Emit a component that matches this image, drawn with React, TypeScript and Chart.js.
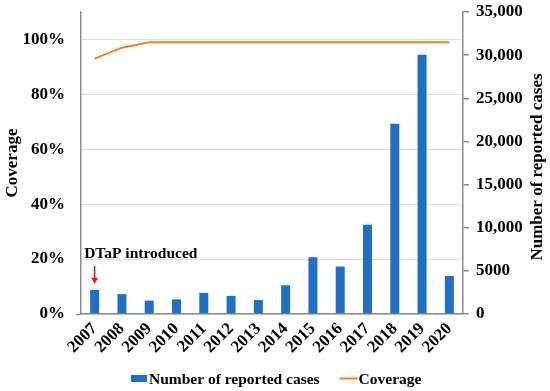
import React, { useEffect, useRef } from "react";
import { Chart, registerables } from "chart.js";

Chart.register(...registerables);

const years = ["2007", "2008", "2009", "2010", "2011", "2012", "2013", "2014", "2015", "2016", "2017", "2018", "2019", "2020"];
const reportedCases = [2800, 2300, 1550, 1700, 2450, 2100, 1620, 3330, 6580, 5500, 10350, 22050, 30050, 4400];
const coverage = [93, 97, 99, 99, 99, 99, 99, 99, 99, 99, 99, 99, 99, 99];
const annotationText = "DTaP introduced";
const leftTitle = "Coverage";
const rightTitle = "Number of reported cases";
const casesLabel = "Number of reported cases";
const coverageLabel = "Coverage";

const FONT = "'Liberation Serif', 'Times New Roman', serif";
const BLUE = "#1F6EC7";
const ORANGE = "#F57E22";
const AXIS = "#8c8c8c";

function fmtCases(v: number): string {
  if (v >= 10000) return v.toLocaleString("en-US");
  return String(v);
}

const extrasPlugin = {
  id: "extras",
  afterDraw(chart: any) {
    const { ctx } = chart;
    const x = chart.scales.x;
    const y1 = chart.scales.y1;
    const area = chart.chartArea;

    // right axis title, bottom-to-top
    ctx.save();
    const midY = (area.top + area.bottom) / 2 + 4;
    ctx.translate(y1.right - 12, midY);
    ctx.rotate(-Math.PI / 2);
    ctx.font = `bold 17px ${FONT}`;
    ctx.fillStyle = "#000";
    ctx.textAlign = "center";
    ctx.textBaseline = "middle";
    ctx.fillText(rightTitle, 0, 0);
    ctx.restore();

    // annotation
    const cx = x.getPixelForValue(0);
    const barTop = y1.getPixelForValue(reportedCases[0]);
    ctx.save();
    ctx.font = `bold 15.5px ${FONT}`;
    ctx.fillStyle = "#000";
    ctx.textAlign = "left";
    ctx.textBaseline = "alphabetic";
    ctx.fillText(annotationText, cx - 10.5, barTop - 32);
    ctx.strokeStyle = "#E8141B";
    ctx.fillStyle = "#E8141B";
    ctx.lineWidth = 1.5;
    ctx.beginPath();
    ctx.moveTo(cx, barTop - 24);
    ctx.lineTo(cx, barTop - 10);
    ctx.stroke();
    ctx.beginPath();
    ctx.moveTo(cx - 3.5, barTop - 12);
    ctx.lineTo(cx + 3.5, barTop - 12);
    ctx.lineTo(cx, barTop - 6);
    ctx.closePath();
    ctx.fill();
    ctx.restore();

    // legend
    const ly = 378.5;
    ctx.save();
    ctx.font = `bold 15.5px ${FONT}`;
    ctx.textBaseline = "middle";
    ctx.textAlign = "left";
    let lx = 131;
    ctx.fillStyle = BLUE;
    ctx.fillRect(lx, ly - 3.5, 16, 7);
    lx += 18;
    ctx.fillStyle = "#000";
    ctx.fillText(casesLabel, lx, ly + 1);
    lx += ctx.measureText(casesLabel).width + 20;
    ctx.strokeStyle = ORANGE;
    ctx.lineWidth = 2;
    ctx.beginPath();
    ctx.moveTo(lx, ly);
    ctx.lineTo(lx + 18, ly);
    ctx.stroke();
    lx += 19;
    ctx.fillText(coverageLabel, lx, ly + 1);
    ctx.restore();
  },
};

export default function App() {
  const ref = useRef<HTMLCanvasElement | null>(null);
  useEffect(() => {
    if (!ref.current) return;
    const chart = new Chart(ref.current, {
      type: "bar",
      data: {
        labels: years,
        datasets: [
          {
            type: "bar",
            label: casesLabel,
            data: reportedCases,
            backgroundColor: BLUE,
            borderWidth: 0,
            yAxisID: "y1",
            barPercentage: 0.33,
            categoryPercentage: 1.0,
          } as any,
          {
            type: "line",
            label: coverageLabel,
            data: coverage,
            borderColor: ORANGE,
            backgroundColor: ORANGE,
            borderWidth: 2,
            pointRadius: 0,
            tension: 0,
            yAxisID: "y",
          } as any,
        ],
      },
      options: {
        animation: false,
        responsive: false,
        maintainAspectRatio: false,
        layout: { autoPadding: false, padding: { left: 0, right: 0, top: 0, bottom: 0 } },
        plugins: {
          tooltip: { enabled: false },
          legend: { display: false },
        },
        scales: {
          x: {
            offset: true,
            afterFit: (s: any) => {
              s.height = 77;
            },
            grid: { display: false, drawTicks: false },
            border: { color: AXIS, width: 1.5 },
            ticks: {
              color: "#000",
              autoSkip: false,
              maxRotation: 45,
              minRotation: 45,
              padding: 5,
              font: { family: FONT, size: 17, weight: "bold" },
            },
          },
          y: {
            position: "left",
            min: 0,
            max: 110,
            afterFit: (s: any) => {
              s.width = 81;
              s.paddingTop = 12;
              s.paddingBottom = 0;
            },
            afterBuildTicks: (axis: any) => {
              axis.ticks = axis.ticks.filter((t: any) => t.value <= 100.001);
            },
            ticks: {
              stepSize: 20,
              color: "#000",
              padding: 11,
              font: { family: FONT, size: 17, weight: "bold" },
              callback: (v: any) => `${v}%`,
            },
            grid: {
              color: "#dedede",
              lineWidth: 1,
              drawTicks: true,
              tickLength: 5,
              tickColor: (c: any) => (c.tick && c.tick.value === 0 ? AXIS : "rgba(0,0,0,0)"),
              tickWidth: 1.5,
            },
            border: { color: AXIS, width: 1.5 },
            title: {
              display: true,
              text: leftTitle,
              color: "#000",
              padding: 2,
              font: { family: FONT, size: 17, weight: "bold" },
            },
          },
          y1: {
            position: "right",
            min: 0,
            max: 35000,
            afterFit: (s: any) => {
              s.width = 87;
              s.paddingTop = 12;
              s.paddingBottom = 0;
            },
            ticks: {
              stepSize: 5000,
              color: "#000",
              padding: 7,
              font: { family: FONT, size: 17, weight: "bold" },
              callback: (v: any) => fmtCases(Number(v)),
            },
            grid: { drawOnChartArea: false, drawTicks: true, tickLength: 6, color: AXIS, lineWidth: 1.5 },
            border: { color: AXIS, width: 1.5 },
          },
        },
      },
      plugins: [extrasPlugin],
    });
    return () => chart.destroy();
  }, []);
  return (
    <div style={{ position: "absolute", left: 0, top: 0, width: 550, height: 391 }}>
      <canvas ref={ref} width={550} height={391} style={{ width: 550, height: 391 }} />
    </div>
  );
}
